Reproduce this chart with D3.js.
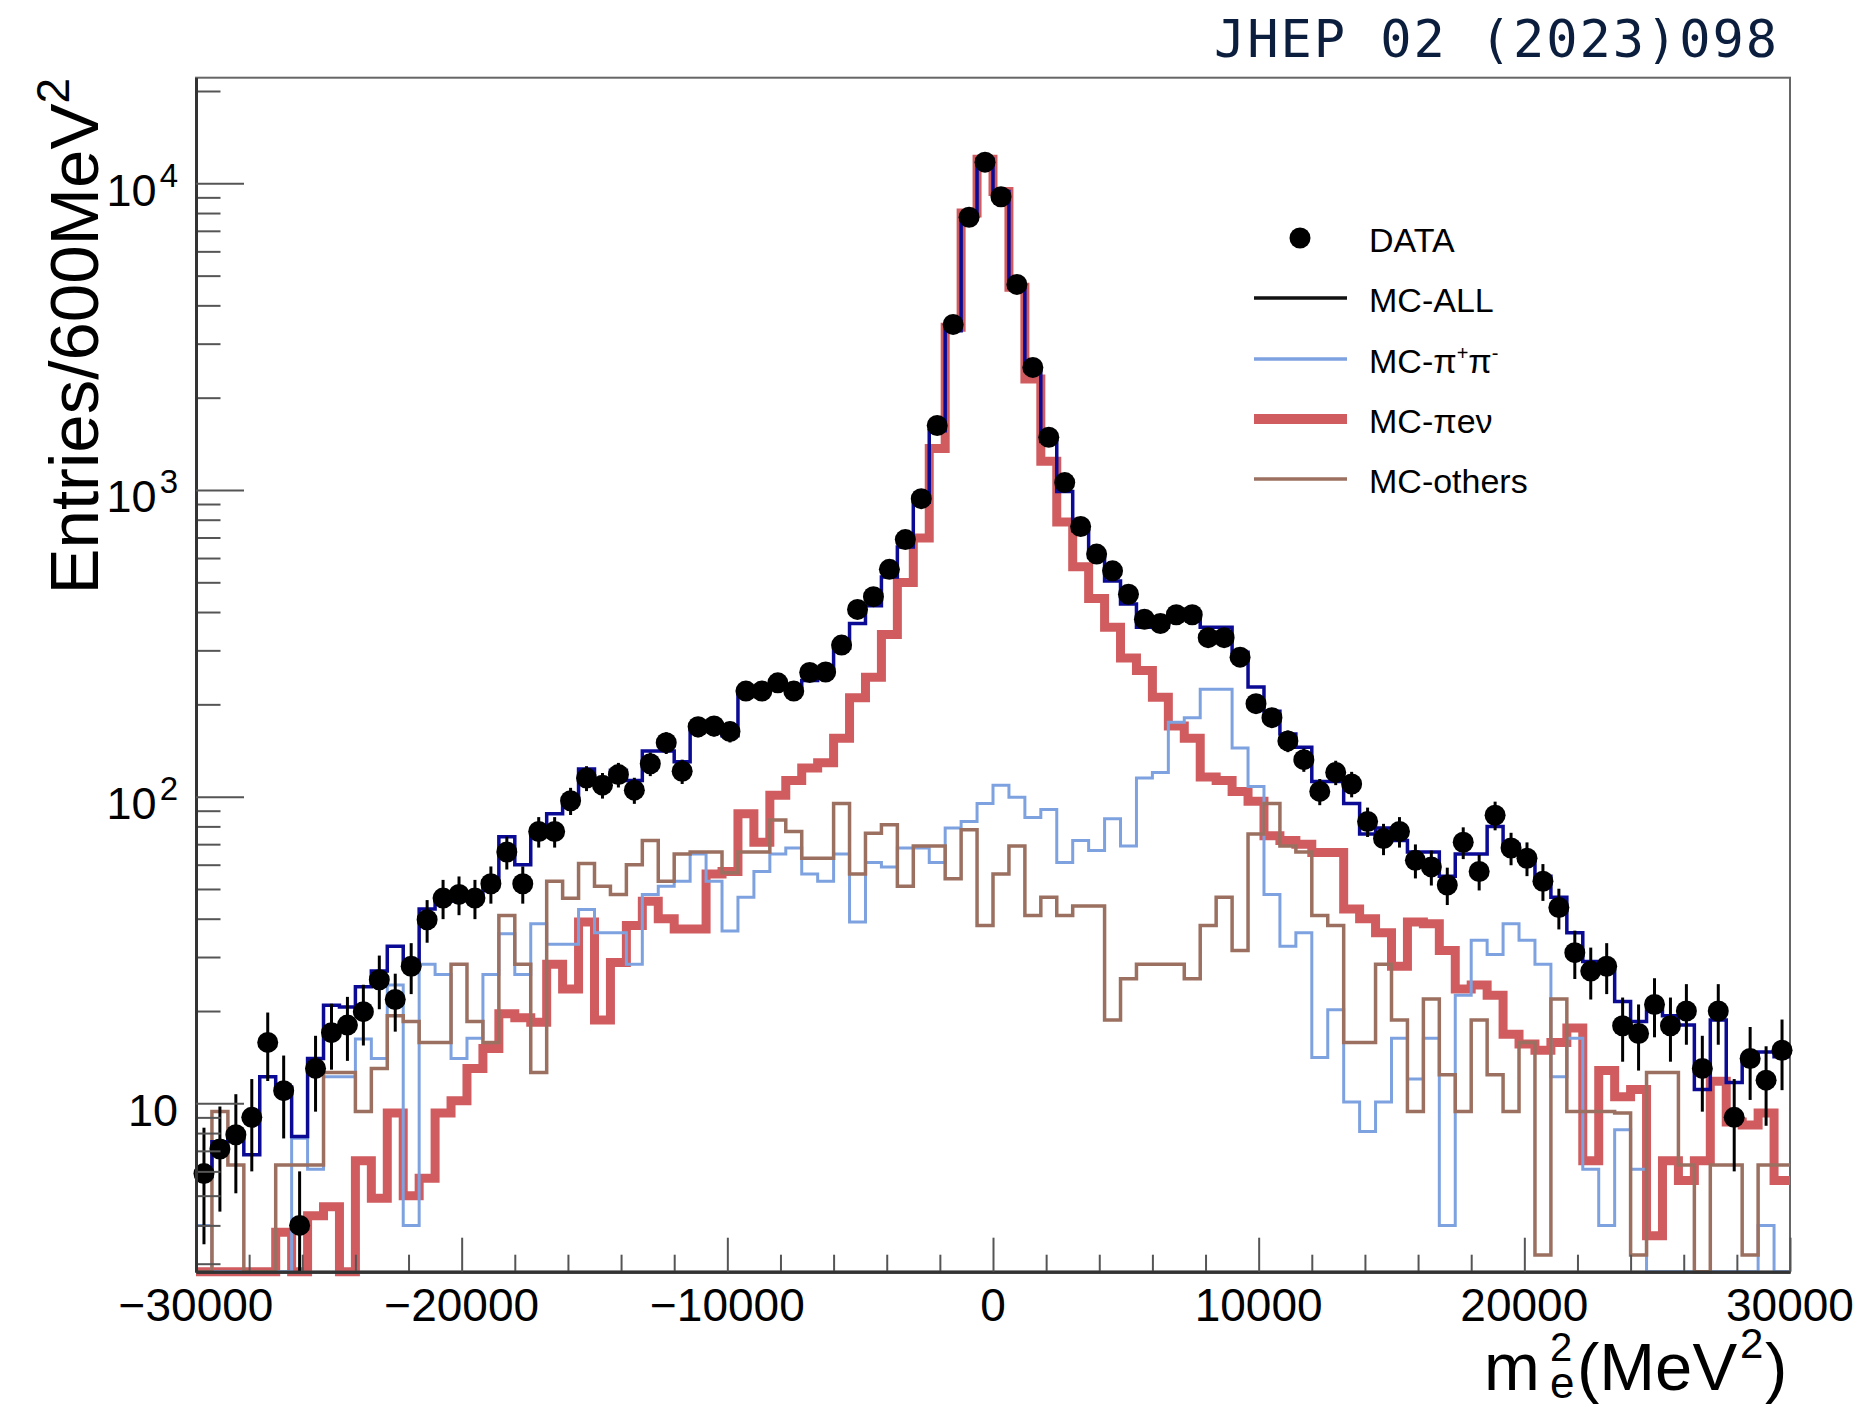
<!DOCTYPE html>
<html>
<head>
<meta charset="utf-8">
<script src="https://cdn.jsdelivr.net/npm/d3@7"></script>
<style>
  body { margin: 0; background: #fff; }
  svg text { font-family: "Liberation Sans", Arial, Helvetica, sans-serif; fill: #000; }
</style>
</head>
<body>
<svg id="chart" width="1865" height="1408"></svg>
<script>
// histogram binning: 100 bins of 600 MeV^2 from -30000 to 30000
const xMin = -30000
const binWidth = 600

// DATA counts per bin
const dataCounts = [
  5.9, 7.1, 7.9, 9.0, 15.8, 11.0, 4.0, 13, 17, 18,
  19.9, 25.3, 21.8, 28, 39.7, 46.7, 48, 46.7, 52, 66,
  52, 77, 77, 97, 115, 109, 118, 105, 128, 150,
  121, 169, 170, 163, 221, 221, 235, 221, 254, 255,
  312, 408, 449, 551, 689, 937, 1623, 3467, 7752, 11720,
  9040, 4680, 2510, 1486, 1057, 760, 618, 545, 457, 379,
  367, 392, 392, 330, 330, 285, 201, 181, 152, 132,
  104, 120, 110, 83, 73, 77, 62, 59, 51.5, 71,
  57, 87, 68, 63, 53, 43.5, 31, 27, 28, 17.9,
  16.9, 21, 17.9, 20, 13, 20, 9.0, 14, 11.9, 14.9
]

// MC-ALL
const mcAll = [
  5.8, 7.5, 8, 6.8, 12.2, 11.3, 7.8, 14, 20.9, 20.6,
  24, 27, 32.5, 28, 43, 45.6, 48, 48, 53, 74,
  60, 78, 88, 98, 123, 114, 122, 113, 141, 141,
  130, 170, 168, 158, 221, 221, 231, 228, 239, 254,
  305, 367, 419, 520, 652, 912, 1560, 3306, 7800, 11970,
  9400, 4680, 2460, 1440, 988, 736, 602, 505, 425, 357,
  357, 386, 386, 357, 357, 296, 228, 190, 160, 145,
  112, 112, 95, 75.5, 79, 72, 66, 66, 55, 65,
  65, 80, 70, 62, 55, 47, 36, 29, 27, 21.5,
  18.5, 20, 19.3, 18, 11.1, 18.7, 11.7, 14.2, 14.7, 14.2
]

// MC-pi+pi-
const mcPiPi = [
  4.0, 2, 2, 2, 2, 2, 7.7, 6.1, 12.2, 12.2,
  16.2, 14, 24.3, 4.0, 28.4, 26.3, 14, 16.3, 26.3, 35.7,
  26.3, 38.5, 33, 33, 42.9, 36, 36, 28.4, 48, 51,
  53, 65, 53, 36.5, 47, 57, 65, 68, 56, 53,
  65, 39, 61, 59, 68, 68, 61, 79, 83, 95,
  109, 99.6, 85.5, 90.8, 61, 72, 66.8, 84.7, 69, 115,
  120, 175, 181, 224, 224, 144, 108, 48, 32.5, 36,
  14.1, 20.2, 10.1, 8.1, 10.1, 16.3, 12, 16.3, 4.0, 22.5,
  34, 30.6, 38.5, 34, 28.4, 12.2, 16.3, 6.1, 4.0, 8.2,
  6.1, 2, 2, 2, 2, 2, 2, 2, 4.0, 2
]

// MC-pi e nu
const mcPiENu = [
  2, 2, 2, 2, 2, 3.8, 2, 4.3, 4.6, 2,
  6.5, 4.9, 9.3, 5.0, 5.7, 9.3, 10.2, 13, 15.1, 19.6,
  19, 18.4, 28.4, 23.6, 39, 18.7, 28.8, 38, 45.6, 40,
  37, 37, 56, 57, 88, 71, 101, 113, 124, 129,
  155, 210, 245, 338, 499, 698, 1365, 3396, 8000, 11970,
  9400, 4580, 2300, 1242, 787, 562, 443, 357, 283, 258,
  211, 170, 155, 116, 113, 104, 96.6, 74.5, 72, 70,
  65.8, 65.8, 43, 40, 36, 28, 39, 38.5, 31.5, 23.6,
  24.3, 22.5, 16.8, 15.6, 14.9, 15.8, 17.6, 6.5, 12.8, 10.5,
  11.1, 3.7, 6.5, 5.6, 6.5, 11.8, 8.7, 8.5, 9.3, 5.6
]

// MC-others
const mcOthers = [
  2, 9.4, 6.3, 2, 2, 6.3, 6.3, 6.3, 12.6, 12.6,
  9.4, 13, 19.3, 18.5, 15.8, 15.8, 28.4, 18.5, 15.8, 41,
  28.4, 12.6, 53, 46.6, 60.5, 51, 48, 60, 72, 53,
  65, 66, 66, 56.5, 66, 66, 84, 77, 63, 63,
  95, 56, 76, 81, 51, 69, 69, 54, 78, 38,
  56, 69, 41, 47, 41, 44, 44, 18.7, 25.5, 28.4,
  28.4, 28.4, 25.5, 38, 47, 31.5, 75.5, 95, 69, 66,
  41, 38, 15.8, 15.8, 28.4, 18.7, 9.4, 21.9, 12.4, 9.4,
  18.7, 12.4, 9.4, 15.8, 3.2, 21.9, 9.4, 9.4, 9.4, 9.3,
  3.2, 12.6, 12.6, 6.3, 2, 6.3, 6.3, 3.2, 6.3, 6.3
]

// axis ticks
const xMajorTicks = [-30000, -20000, -10000, 0, 10000, 20000, 30000]
const yMajorTicks = [10, 100, 1000, 10000]
const yExponents = [1, 2, 3, 4]

const colors = {
  all: "#0a0a94",
  pipi: "#7ea2e0",
  pienu: "#d05c60",
  others: "#9c7060"
}

let svg = d3.select("#chart")

let plot = { left: 196, right: 1790, top: 77.7, bottom: 1271.7 }

let xScale = d3.scaleLinear()
  .domain([-30000, 30000])
  .range([plot.left, plot.right])

let yScale = d3.scaleLog()
  .domain([2.825, 22100])
  .range([plot.bottom, plot.top])
  .clamp(true)

// minor ticks
let xMinorTicks = d3.range(-30000, 30001, 2000).filter(d => d % 10000 != 0)
let yMinorTicks = []
for (let dec = 1; dec <= 10000; dec *= 10) {
  for (let k = 2; k <= 9; k++) {
    let v = k * dec
    if (v < 22100 && v > 2.825) yMinorTicks.push(v)
  }
}

// frame
svg.append("rect")
  .attr("x", plot.left).attr("y", plot.top)
  .attr("width", plot.right - plot.left).attr("height", plot.bottom - plot.top)
  .attr("fill", "none").attr("stroke", "#666").attr("stroke-width", 2)

// histograms as step lines
function histPoints(values) {
  let pts = values.map((v, i) => [xMin + i * binWidth, v])
  pts.push([xMin + values.length * binWidth, values[values.length - 1]])
  return pts
}

let stepLine = d3.line()
  .x(d => xScale(d[0]))
  .y(d => yScale(d[1]))
  .curve(d3.curveStepAfter)

let histGroup = svg.append("g")

function drawHist(values, color, width) {
  histGroup.append("path")
    .datum(histPoints(values))
    .attr("d", stepLine)
    .attr("fill", "none")
    .attr("stroke", color)
    .attr("stroke-width", width)
    .attr("stroke-linejoin", "miter")
}

drawHist(mcPiENu, colors.pienu, 9)
drawHist(mcPiPi, colors.pipi, 3)
drawHist(mcOthers, colors.others, 3.5)
drawHist(mcAll, colors.all, 3.5)

// data points with sqrt(N) errors
let dataPts = dataCounts.map((v, i) => ({ x: xMin + (i + 0.5) * binWidth, v: v }))

svg.append("g").selectAll("line")
  .data(dataPts)
  .enter()
  .append("line")
  .attr("x1", d => xScale(d.x))
  .attr("x2", d => xScale(d.x))
  .attr("y1", d => yScale(Math.max(d.v - Math.sqrt(d.v), 0.01)))
  .attr("y2", d => yScale(d.v + Math.sqrt(d.v)))
  .attr("stroke", "#000")
  .attr("stroke-width", 3)

svg.append("g").selectAll("circle")
  .data(dataPts)
  .enter()
  .append("circle")
  .attr("cx", d => xScale(d.x))
  .attr("cy", d => yScale(d.v))
  .attr("r", 10.5)
  .attr("fill", "#000")

// x axis
let xAxisGroup = svg.append("g").attr("transform", `translate(0, ${plot.bottom})`)
xAxisGroup.append("g")
  .call(d3.axisBottom(xScale).tickValues(xMinorTicks).tickSize(-17).tickSizeOuter(0).tickFormat(""))
xAxisGroup.append("g")
  .call(d3.axisBottom(xScale).tickValues(xMajorTicks).tickSize(-34).tickSizeOuter(0).tickFormat(""))
xAxisGroup.selectAll(".tick line").attr("stroke", "#555").attr("stroke-width", 2)
xAxisGroup.selectAll(".domain").attr("stroke", "#333").attr("stroke-width", 3)

svg.append("g").selectAll("text")
  .data(xMajorTicks)
  .enter()
  .append("text")
  .attr("x", d => xScale(d))
  .attr("y", 1321)
  .attr("text-anchor", "middle")
  .style("font-size", "46px")
  .text(d => d3.format("d")(d))

// y axis
let yAxisGroup = svg.append("g").attr("transform", `translate(${plot.left}, 0)`)
yAxisGroup.append("g")
  .call(d3.axisLeft(yScale).tickValues(yMinorTicks).tickSize(-24.5).tickSizeOuter(0).tickFormat(""))
yAxisGroup.append("g")
  .call(d3.axisLeft(yScale).tickValues(yMajorTicks).tickSize(-48).tickSizeOuter(0).tickFormat(""))
yAxisGroup.selectAll(".tick line").attr("stroke", "#555").attr("stroke-width", 2)
yAxisGroup.selectAll(".domain").attr("stroke", "#333").attr("stroke-width", 3)

let yLabels = svg.append("g").selectAll("text")
  .data(yMajorTicks)
  .enter()
  .append("text")
  .attr("x", 178)
  .attr("y", d => yScale(d) + 22.5)
  .attr("text-anchor", "end")
  .style("font-size", "45px")

yLabels.append("tspan").text("10")
yLabels.filter((d, i) => yExponents[i] > 1)
  .append("tspan")
  .attr("dx", 3)
  .attr("dy", -19)
  .style("font-size", "33px")
  .text(d => yExponents[yMajorTicks.indexOf(d)])

// y axis title
let yTitle = svg.append("text")
  .attr("transform", "translate(98, 78) rotate(-90)")
  .attr("text-anchor", "end")
  .style("font-size", "69px")
yTitle.append("tspan").text("Entries/600MeV")
yTitle.append("tspan").attr("dy", -29).style("font-size", "46px").text("2")

// x axis title
svg.append("text").attr("x", 1484).attr("y", 1390).style("font-size", "67px").text("m")
svg.append("text").attr("x", 1550).attr("y", 1361).style("font-size", "40px").text("2")
svg.append("text").attr("x", 1550).attr("y", 1398).style("font-size", "44px").text("e")
svg.append("text").attr("x", 1577).attr("y", 1390).style("font-size", "67px").text("(MeV")
svg.append("text").attr("x", 1740).attr("y", 1358).style("font-size", "42px").text("2")
svg.append("text").attr("x", 1765).attr("y", 1390).style("font-size", "67px").text(")")

// journal reference
svg.append("text")
  .attr("x", 1214)
  .attr("y", 57)
  .attr("textLength", 563)
  .attr("lengthAdjust", "spacing")
  .style("font-family", "'DejaVu Sans Mono', monospace")
  .style("font-size", "52px")
  .style("fill", "#0b1e3d")
  .text("JHEP 02 (2023)098")

// legend
let legend = svg.append("g")
legend.append("circle").attr("cx", 1300).attr("cy", 238).attr("r", 10.5).attr("fill", "#000")
legend.append("text").attr("x", 1369).attr("y", 252).style("font-size", "34px").text("DATA")

let legendRows = [
  { y: 298, color: "#111", width: 3.5 },
  { y: 359, color: colors.pipi, width: 3.5 },
  { y: 419, color: colors.pienu, width: 10 },
  { y: 479, color: colors.others, width: 3.5 }
]
legendRows.forEach(r => {
  legend.append("line")
    .attr("x1", 1254).attr("x2", 1347)
    .attr("y1", r.y).attr("y2", r.y)
    .attr("stroke", r.color).attr("stroke-width", r.width)
})

legend.append("text").attr("x", 1369).attr("y", 312).style("font-size", "34px").text("MC-ALL")
let ppText = legend.append("text").attr("x", 1369).attr("y", 373).style("font-size", "34px")
ppText.append("tspan").text("MC-π")
ppText.append("tspan").attr("dy", -13).style("font-size", "20px").text("+")
ppText.append("tspan").attr("dy", 13).text("π")
ppText.append("tspan").attr("dy", -13).style("font-size", "20px").text("-")
legend.append("text").attr("x", 1369).attr("y", 433).style("font-size", "34px").text("MC-πeν")
legend.append("text").attr("x", 1369).attr("y", 493).style("font-size", "34px").text("MC-others")
</script>
</body>
</html>
